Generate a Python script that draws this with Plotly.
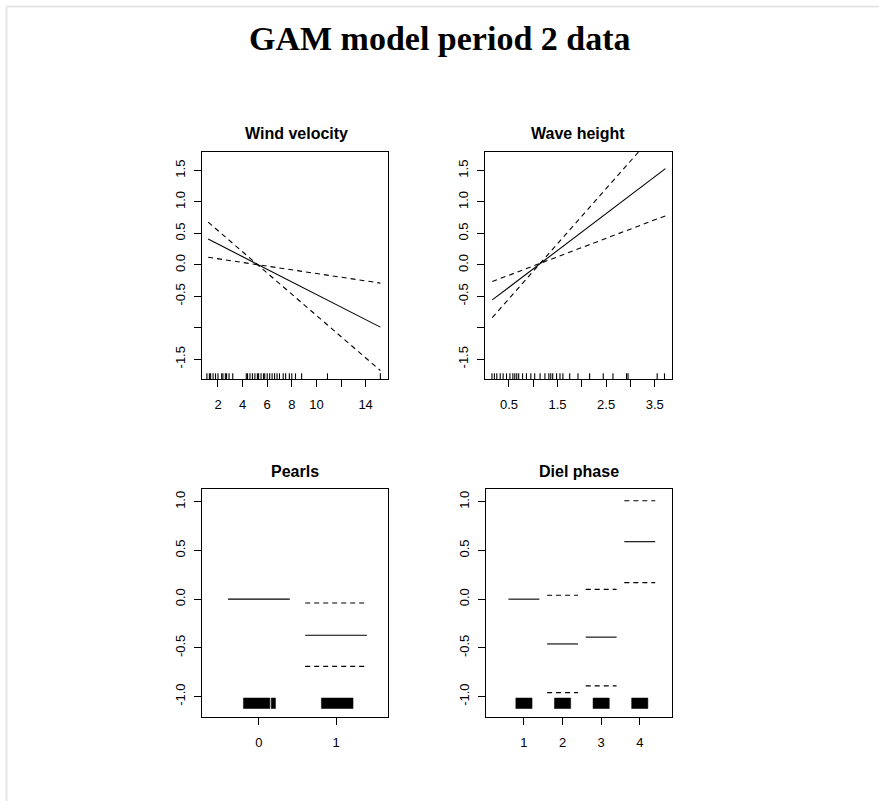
import plotly.graph_objects as go

# ---------------- data ----------------
# Wind velocity (linear term, fit and the two +-2se band lines)
wind_x = [1.2, 15.2]
wind_fit = [0.41, -0.99]
wind_band_a = [0.68, -1.68]
wind_band_b = [0.12, -0.29]
wind_rug = [1.1, 1.3, 1.4, 1.6, 1.8, 2.0, 2.3, 2.4, 2.6, 2.7, 2.9, 3.2, 4.3, 4.4, 4.6,
            4.8, 5.0, 5.2, 5.3, 5.5, 5.7, 5.8, 6.0, 6.2, 6.4, 6.6, 6.8, 7.0, 7.3, 7.5,
            7.8, 8.0, 8.3, 8.8, 10.9, 15.2]

# Wave height
wave_x = [0.157, 3.72]
wave_fit = [-0.557, 1.53]
wave_band_a = [-0.265, 0.78]
wave_band_b = [-0.84, 2.28]
wave_rug = [0.15, 0.2, 0.25, 0.32, 0.38, 0.45, 0.52, 0.58, 0.62, 0.66, 0.7, 0.78, 0.86,
            0.95, 1.03, 1.14, 1.24, 1.32, 1.36, 1.4, 1.48, 1.55, 1.61, 1.75, 1.92, 2.16,
            2.44, 2.64, 2.92, 2.95, 3.55, 3.7]

# Pearls (factor) - reference level has no band
pearls_levels = [0, 1]
pearls_fit = [0.0, -0.37]
pearls_upper = [None, -0.04]
pearls_lower = [None, -0.69]
pearls_rug_blocks = [(-0.20, 0.142), (0.16, 0.215), (0.81, 1.22)]

# Diel phase (factor) - reference level has no band
diel_levels = [1, 2, 3, 4]
diel_fit = [0.0, -0.46, -0.39, 0.59]
diel_upper = [None, 0.04, 0.10, 1.01]
diel_lower = [None, -0.96, -0.89, 0.17]
diel_rug_blocks = [(0.79, 1.21), (1.79, 2.21), (2.79, 3.21), (3.79, 4.21)]

wind_ticks = [2, 4, 6, 8, 10, 12, 14]
wind_ticktext = ["2", "4", "6", "8", "10", "", "14"]
wave_ticks = [0.5, 1.0, 1.5, 2.0, 2.5, 3.0, 3.5]
wave_ticktext = ["0.5", "", "1.5", "", "2.5", "", "3.5"]
top_yticks = [-1.5, -1.0, -0.5, 0.0, 0.5, 1.0, 1.5]
top_yticktext = ["-1.5", "", "-0.5", "0.0", "0.5", "1.0", "1.5"]
bot_yticks = [-1.0, -0.5, 0.0, 0.5, 1.0]
bot_yticktext = ["-1.0", "-0.5", "0.0", "0.5", "1.0"]

titles = ["Wind velocity", "Wave height", "Pearls", "Diel phase"]
main_title = "GAM model period 2 data"

# ---------------- layout constants ----------------
W, H = 879, 801
TOP_YR = [-1.815, 1.795]
BOT_YR = [-1.21, 1.131]
RUG_H = 0.09
FAC_HALF = 0.4
FAC_RUG_Y = [-1.123, -1.015]
DASH = "5px,4px"
LW = 1.1


def px_x(a, b):
    return [a / W, b / W]


def px_y(top, bottom):
    return [(H - bottom) / H, (H - top) / H]


fig = go.Figure()


def line(xs, ys, ax, dash=None):
    fig.add_trace(go.Scatter(x=xs, y=ys, mode="lines", xaxis="x" + ax, yaxis="y" + ax,
                             line=dict(color="black", width=LW, dash=dash),
                             hoverinfo="skip", showlegend=False))


def rug(vals, ax, ymin):
    xs, ys = [], []
    for v in vals:
        xs += [v, v, None]
        ys += [ymin, ymin + RUG_H, None]
    line(xs, ys, ax)


def factor_segments(levels, vals, ax, dash=None):
    xs, ys = [], []
    for l, v in zip(levels, vals):
        if v is None:
            continue
        xs += [l - FAC_HALF, l + FAC_HALF, None]
        ys += [v, v, None]
    line(xs, ys, ax, dash)


def blocks(bl, ax):
    for a, b in bl:
        fig.add_trace(go.Scatter(x=[a, b, b, a, a],
                                 y=[FAC_RUG_Y[0], FAC_RUG_Y[0], FAC_RUG_Y[1], FAC_RUG_Y[1], FAC_RUG_Y[0]],
                                 mode="lines", fill="toself", fillcolor="black",
                                 line=dict(color="black", width=0.5),
                                 xaxis="x" + ax, yaxis="y" + ax, hoverinfo="skip", showlegend=False))


# panel 1
line(wind_x, wind_band_a, "", DASH)
line(wind_x, wind_band_b, "", DASH)
line(wind_x, wind_fit, "")
rug(wind_rug, "", TOP_YR[0])
# panel 2
line(wave_x, wave_band_a, "2", DASH)
line(wave_x, wave_band_b, "2", DASH)
line(wave_x, wave_fit, "2")
rug(wave_rug, "2", TOP_YR[0])
# panel 3
factor_segments(pearls_levels, pearls_upper, "3", DASH)
factor_segments(pearls_levels, pearls_lower, "3", DASH)
factor_segments(pearls_levels, pearls_fit, "3")
blocks(pearls_rug_blocks, "3")
# panel 4
factor_segments(diel_levels, diel_upper, "4", DASH)
factor_segments(diel_levels, diel_lower, "4", DASH)
factor_segments(diel_levels, diel_fit, "4")
blocks(diel_rug_blocks, "4")

tickfont = dict(family="Liberation Sans, Arial, sans-serif", size=13, color="black")
common = dict(showgrid=False, zeroline=False, showline=True, mirror=True,
              linecolor="black", linewidth=1, ticks="outside", ticklen=7,
              tickcolor="black", tickwidth=1, tickfont=tickfont, fixedrange=True)
xcommon = dict(ticklabelstandoff=6, **common)
ycommon = dict(ticklabelstandoff=4, tickangle=-90, **common)

fig.update_layout(
    width=W, height=H,
    margin=dict(l=0, r=0, t=0, b=0),
    paper_bgcolor="white", plot_bgcolor="white",
    showlegend=False,
    xaxis=dict(domain=px_x(202, 388), range=[0.70, 15.82], tickmode="array",
               tickvals=wind_ticks, ticktext=wind_ticktext, anchor="y", **xcommon),
    yaxis=dict(domain=px_y(152, 379), range=TOP_YR, tickmode="array",
               tickvals=top_yticks, ticktext=top_yticktext, anchor="x", **ycommon),
    xaxis2=dict(domain=px_x(485, 672), range=[0.007, 3.855], tickmode="array",
                tickvals=wave_ticks, ticktext=wave_ticktext, anchor="y2", **xcommon),
    yaxis2=dict(domain=px_y(152, 379), range=TOP_YR, tickmode="array",
                tickvals=top_yticks, ticktext=top_yticktext, anchor="x2", **ycommon),
    xaxis3=dict(domain=px_x(202, 388), range=[-0.737, 1.673], tickmode="array",
                tickvals=pearls_levels, ticktext=[str(v) for v in pearls_levels], anchor="y3", **xcommon),
    yaxis3=dict(domain=px_y(489, 717), range=BOT_YR, tickmode="array",
                tickvals=bot_yticks, ticktext=bot_yticktext, anchor="x3", **ycommon),
    xaxis4=dict(domain=px_x(486, 672), range=[0.017, 4.835], tickmode="array",
                tickvals=diel_levels, ticktext=[str(v) for v in diel_levels], anchor="y4", **xcommon),
    yaxis4=dict(domain=px_y(489, 717), range=BOT_YR, tickmode="array",
                tickvals=bot_yticks, ticktext=bot_yticktext, anchor="x4", **ycommon),
)

ann_font = dict(family="Liberation Sans, Arial, sans-serif", size=16, color="black")
panel_centers = [(296, 134), (578, 134), (295, 471), (579, 471)]
annotations = []
for t, (cx, cy) in zip(titles, panel_centers):
    annotations.append(dict(text="<b>%s</b>" % t, x=cx / W, y=(H - cy) / H, xref="paper", yref="paper",
                            xanchor="center", yanchor="middle", showarrow=False, font=ann_font))
annotations.append(dict(text="<b>%s</b>" % main_title, x=440 / W, y=(H - 38) / H, xref="paper", yref="paper",
                        xanchor="center", yanchor="middle", showarrow=False,
                        font=dict(family="Liberation Serif, Times New Roman, serif", size=34, color="black")))
fig.update_layout(annotations=annotations)

# light frame at the top/left edges of the page
fig.update_layout(shapes=[
    dict(type="line", xref="paper", yref="paper", x0=6 / W, x1=1, y0=(H - 6.5) / H, y1=(H - 6.5) / H,
         line=dict(color="#e6e6e6", width=2)),
    dict(type="line", xref="paper", yref="paper", x0=6.5 / W, x1=6.5 / W, y0=0, y1=(H - 6) / H,
         line=dict(color="#e6e6e6", width=2)),
])

fig.write_html("out.html", config={"displayModeBar": False},
               post_script="document.body.style.margin='0';")
